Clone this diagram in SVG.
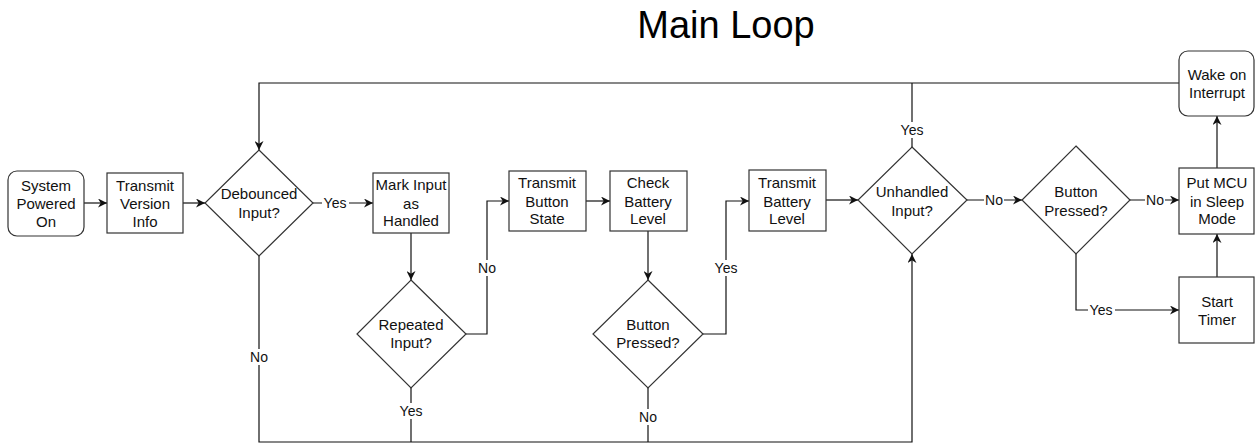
<svg xmlns="http://www.w3.org/2000/svg" width="1255" height="445" viewBox="0 0 1255 445">
<style>
.n{fill:#fff;stroke:#333;stroke-width:1.2}
.t{font-family:"Liberation Sans",Arial,sans-serif;font-size:15px;fill:#111;text-anchor:middle}
.c{fill:none;stroke:#111;stroke-width:1.2}
.l{font-family:"Liberation Sans",Arial,sans-serif;font-size:14px;fill:#111;text-anchor:middle}
.bg{fill:#fff}
</style>
<defs>
<marker id="a" viewBox="0 0 10 10" refX="10" refY="5" markerUnits="userSpaceOnUse" markerWidth="9" markerHeight="9" orient="auto">
<path d="M0,0 L10,5 L0,10 L3,5 z" fill="#111"/>
</marker>
</defs>
<rect width="1255" height="445" fill="#fff"/>
<text x="726" y="38" font-family="'Liberation Sans',Arial,sans-serif" font-size="38" text-anchor="middle" fill="#000">Main Loop</text>

<g id="connectors">
<path class="c" d="M84,203H107" marker-end="url(#a)"/>
<path class="c" d="M183,203H205" marker-end="url(#a)"/>
<path class="c" d="M313,203H373" marker-end="url(#a)"/>
<path class="c" d="M411,233V280" marker-end="url(#a)"/>
<path class="c" d="M466,334H487V201H509" marker-end="url(#a)"/>
<path class="c" d="M586,201H610" marker-end="url(#a)"/>
<path class="c" d="M648,231V280" marker-end="url(#a)"/>
<path class="c" d="M703,334H726V201H749" marker-end="url(#a)"/>
<path class="c" d="M826,200H858" marker-end="url(#a)"/>
<path class="c" d="M967,200H1022" marker-end="url(#a)"/>
<path class="c" d="M1130,200H1179" marker-end="url(#a)"/>
<path class="c" d="M1076,254V310H1179" marker-end="url(#a)"/>
<path class="c" d="M1217,277V234" marker-end="url(#a)"/>
<path class="c" d="M1217,168V116" marker-end="url(#a)"/>
<path class="c" d="M1179,83H259V150" marker-end="url(#a)"/>
<path class="c" d="M912,147V83"/>
<path class="c" d="M259,256V442H912V254" marker-end="url(#a)"/>
<path class="c" d="M411,388V442"/>
<path class="c" d="M648,388V442"/>
<g id="labels">
<rect class="bg" x="322" y="195" width="27" height="16"/><text class="l" x="335" y="208">Yes</text>
<rect class="bg" x="477" y="260" width="20" height="16"/><text class="l" x="487" y="273">No</text>
<rect class="bg" x="713" y="260" width="27" height="16"/><text class="l" x="726" y="273">Yes</text>
<rect class="bg" x="899" y="122" width="27" height="16"/><text class="l" x="912" y="135">Yes</text>
<rect class="bg" x="984" y="192" width="20" height="16"/><text class="l" x="994" y="205">No</text>
<rect class="bg" x="1145" y="192" width="20" height="16"/><text class="l" x="1155" y="205">No</text>
<rect class="bg" x="1088" y="302" width="27" height="16"/><text class="l" x="1101" y="315">Yes</text>
<rect class="bg" x="249" y="349" width="20" height="16"/><text class="l" x="259" y="362">No</text>
<rect class="bg" x="398" y="403" width="27" height="16"/><text class="l" x="411" y="416">Yes</text>
<rect class="bg" x="638" y="409" width="20" height="16"/><text class="l" x="648" y="422">No</text>
</g>
</g>

<g id="system-powered-on"><rect class="n" x="8" y="171" width="76" height="65" rx="9"/>
<text class="t" x="46" y="191">System</text><text class="t" x="46" y="209">Powered</text><text class="t" x="46" y="227">On</text></g>

<g id="transmit-version-info"><rect class="n" x="107" y="173" width="76" height="60"/>
<text class="t" x="145" y="191">Transmit</text><text class="t" x="145" y="209">Version</text><text class="t" x="145" y="227">Info</text></g>

<g id="debounced-input"><polygon class="n" points="259,150 313,203 259,256 205,203"/>
<text class="t" x="259" y="199">Debounced</text><text class="t" x="259" y="218">Input?</text></g>

<g id="mark-input-handled"><rect class="n" x="373" y="173" width="76" height="60"/>
<text class="t" x="411" y="190">Mark Input</text><text class="t" x="411" y="209">as</text><text class="t" x="411" y="226">Handled</text></g>

<g id="repeated-input"><polygon class="n" points="411,280 466,334 411,388 357,334"/>
<text class="t" x="411" y="330">Repeated</text><text class="t" x="411" y="348">Input?</text></g>

<g id="transmit-button-state"><rect class="n" x="509" y="171" width="77" height="60"/>
<text class="t" x="547" y="188">Transmit</text><text class="t" x="547" y="207">Button</text><text class="t" x="547" y="224">State</text></g>

<g id="check-battery-level"><rect class="n" x="610" y="171" width="77" height="60"/>
<text class="t" x="648" y="188">Check</text><text class="t" x="648" y="207">Battery</text><text class="t" x="648" y="224">Level</text></g>

<g id="button-pressed-1"><polygon class="n" points="648,280 703,334 648,388 593,334"/>
<text class="t" x="648" y="330">Button</text><text class="t" x="648" y="348">Pressed?</text></g>

<g id="transmit-battery-level"><rect class="n" x="749" y="170" width="77" height="61"/>
<text class="t" x="787" y="188">Transmit</text><text class="t" x="787" y="207">Battery</text><text class="t" x="787" y="224">Level</text></g>

<g id="unhandled-input"><polygon class="n" points="912,147 967,200 912,254 858,200"/>
<text class="t" x="912" y="197">Unhandled</text><text class="t" x="912" y="216">Input?</text></g>

<g id="button-pressed-2"><polygon class="n" points="1076,146 1130,200 1076,254 1022,200"/>
<text class="t" x="1076" y="197">Button</text><text class="t" x="1076" y="216">Pressed?</text></g>

<g id="put-mcu-sleep"><rect class="n" x="1179" y="168" width="75" height="66"/>
<text class="t" x="1217" y="188">Put MCU</text><text class="t" x="1217" y="207">in Sleep</text><text class="t" x="1217" y="224">Mode</text></g>

<g id="wake-on-interrupt"><rect class="n" x="1179" y="51" width="75" height="65" rx="9"/>
<text class="t" x="1217" y="80">Wake on</text><text class="t" x="1217" y="98">Interrupt</text></g>

<g id="start-timer"><rect class="n" x="1179" y="277" width="75" height="66"/>
<text class="t" x="1217" y="307">Start</text><text class="t" x="1217" y="325">Timer</text></g>
</svg>
